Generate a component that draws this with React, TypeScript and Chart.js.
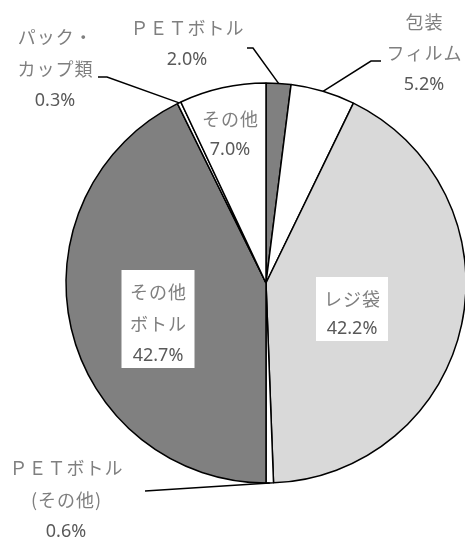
import React, { useEffect, useRef } from "react";
import { Chart, registerables } from "chart.js";

Chart.register(...registerables);

const categories = ["ＰＥＴボトル", "包装フィルム", "レジ袋", "ＰＥＴボトル(その他)", "その他ボトル", "パック・カップ類", "その他"];
const values = [2.0, 5.2, 42.2, 0.6, 42.7, 0.3, 7.0];
const sliceColors = ["#808080", "#ffffff", "#d9d9d9", "#ffffff", "#808080", "#ffffff", "#ffffff"];
const nameLines = [["ＰＥＴボトル"], ["包装", "フィルム"], ["レジ袋"], ["ＰＥＴボトル", "(その他)"], ["その他", "ボトル"], ["パック・", "カップ類"], ["その他"]];
const pctLabels = ["2.0%", "5.2%", "42.2%", "0.6%", "42.7%", "0.3%", "7.0%"];

// layout of labels (text centres; first line y, line step), and leader elbows
type LabelLayout = { x: number; y: number; step: number; box?: boolean; leader?: number[][] };
const labelLayout: LabelLayout[] = [
  { x: 187, y: 28, step: 32, leader: [[253, 48], [247, 48]] },
  { x: 424, y: 22, step: 31.5, leader: [[371, 61], [381, 61]] },
  { x: 352, y: 299, step: 30, box: true },
  { x: 66, y: 468, step: 32, leader: [[145, 491]] },
  { x: 158, y: 292, step: 32, box: true },
  { x: 55, y: 37, step: 32, leader: [[107, 77], [98, 77]] },
  { x: 230, y: 119, step: 31 },
];

const NAME_FONT = "18px 'Noto Sans CJK JP', sans-serif";
const PCT_FONT = "18px 'Noto Sans', 'Noto Sans CJK JP', sans-serif";

function drawSpaced(ctx: CanvasRenderingContext2D, text: string, cx: number, cy: number, spacing: number) {
  (ctx as any).letterSpacing = spacing + "px";
  const w = ctx.measureText(text).width - spacing;
  ctx.textAlign = "left";
  ctx.fillText(text, cx - w / 2, cy);
  (ctx as any).letterSpacing = "0px";
}

const labelPlugin = {
  id: "pieLabels",
  afterDatasetsDraw(chart: any) {
    const ctx: CanvasRenderingContext2D = chart.ctx;
    const meta = chart.getDatasetMeta(0);
    ctx.save();
    meta.data.forEach((arc: any, i: number) => {
      const lay = labelLayout[i];
      const lines = nameLines[i];
      if (lay.leader) {
        const mid = (arc.startAngle + arc.endAngle) / 2;
        const ax = arc.x + Math.cos(mid) * arc.outerRadius;
        const ay = arc.y + Math.sin(mid) * arc.outerRadius;
        ctx.beginPath();
        ctx.moveTo(ax, ay);
        lay.leader.forEach((p) => ctx.lineTo(p[0], p[1]));
        ctx.strokeStyle = "#000";
        ctx.lineWidth = 1.5;
        ctx.stroke();
      }
      if (lay.box) {
        const n = lines.length + 1;
        const h = lay.step * (n - 1) + 34;
        const w = lines.length > 1 ? 73 : 72;
        ctx.fillStyle = "#ffffff";
        ctx.fillRect(lay.x - w / 2, lay.y - 22, w, h);
      }
      ctx.textBaseline = "middle";
      ctx.font = NAME_FONT;
      ctx.fillStyle = "#7f7f7f";
      lines.forEach((t, k) => drawSpaced(ctx, t, lay.x, lay.y + k * lay.step, 1));
      ctx.font = PCT_FONT;
      ctx.fillStyle = "#595959";
      ctx.textAlign = "center";
      ctx.fillText(pctLabels[i], lay.x, lay.y + lines.length * lay.step);
    });
    ctx.restore();
  },
};

export default function App() {
  const ref = useRef<HTMLCanvasElement>(null);
  useEffect(() => {
    if (!ref.current) return;
    const chart = new Chart(ref.current, {
      type: "pie",
      data: {
        labels: categories,
        datasets: [
          {
            data: values,
            backgroundColor: sliceColors,
            borderColor: "#000000",
            borderWidth: 1.5,
            radius: 200,
          } as any,
        ],
      },
      options: {
        responsive: false,
        animation: false,
        layout: { padding: { left: 67, right: 0, top: 26, bottom: 0 } },
        plugins: { legend: { display: false }, tooltip: { enabled: false } },
      },
      plugins: [labelPlugin],
    });
    return () => chart.destroy();
  }, []);
  return (
    <div style={{ position: "absolute", left: 0, top: 0, width: 465, height: 540, background: "#fff" }}>
      <canvas ref={ref} width={465} height={540} style={{ display: "block" }} />
    </div>
  );
}
